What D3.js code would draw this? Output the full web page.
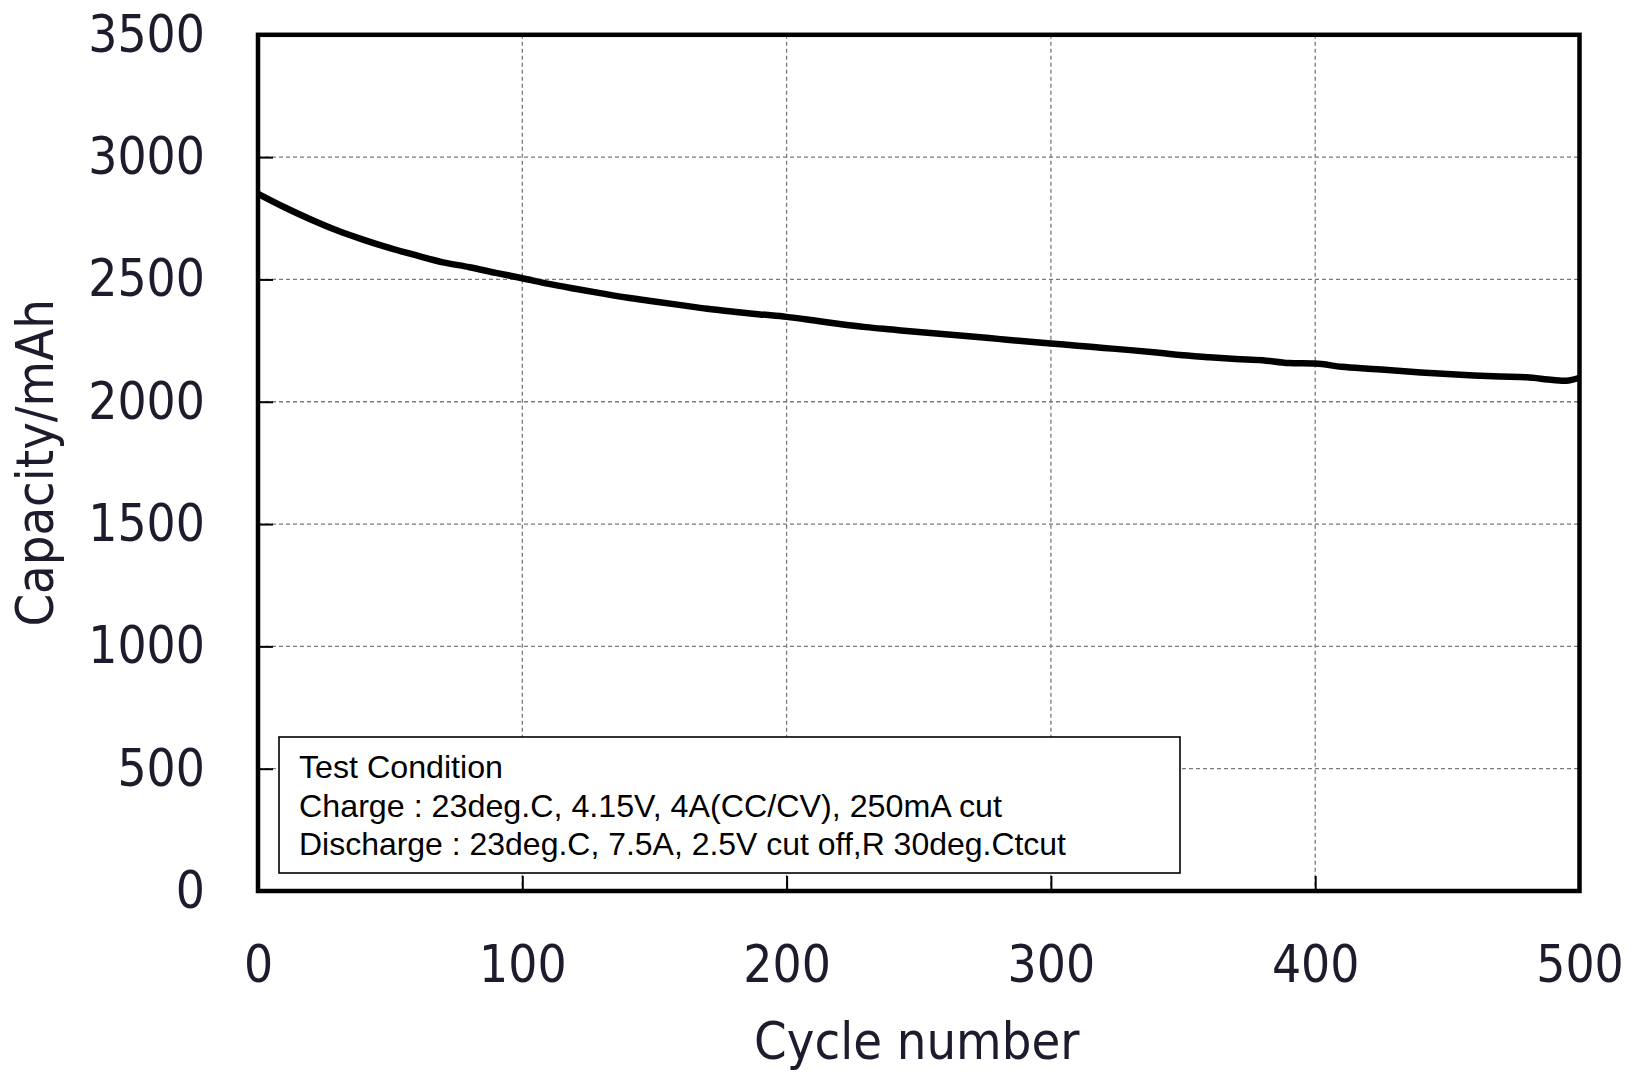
<!DOCTYPE html>
<html><head><meta charset="utf-8">
<script src="https://cdn.jsdelivr.net/npm/d3@7"></script>
<style>
html,body{margin:0;padding:0;background:#fff;}
svg{display:block;}
</style></head>
<body>
<svg id="chart" width="1632" height="1074"></svg>
<script>
const cycles = [0,10,20,30,40,50,60,70,80,90,100,110,120,130,140,150,160,170,180,190,200,210,220,230,240,250,260,270,280,290,300,310,320,330,340,350,360,370,380,390,400,410,420,430,440,450,460,470,480,490,495,500];
const capacity = [2850,2795,2745,2700,2662,2628,2598,2570,2550,2527,2505,2482,2462,2443,2425,2410,2395,2380,2368,2357,2347,2333,2318,2305,2295,2285,2276,2267,2257,2247,2238,2229,2220,2211,2201,2190,2182,2175,2170,2158,2156,2143,2135,2128,2120,2113,2107,2103,2100,2089,2086,2098];
const xTicks = [0,100,200,300,400,500];
const yTicks = [0,500,1000,1500,2000,2500,3000,3500];
const xTitle = "Cycle number";
const yTitle = "Capacity/mAh";
const legendLines = ["Test Condition","Charge : 23deg.C, 4.15V, 4A(CC/CV), 250mA cut","Discharge : 23deg.C, 7.5A, 2.5V cut off,R 30deg.Ctcut"];

const svg = d3.select("#chart");
const L = 258, R = 1579.5, T = 34.8, B = 891;
const x = d3.scaleLinear().domain([0,500]).range([L,R]);
const y = d3.scaleLinear().domain([0,3500]).range([B,T]);
const axisFont = "'DejaVu Sans Condensed','DejaVu Sans',sans-serif";

// gridlines
const grid = svg.append("g").attr("stroke","#7a7a7a").attr("stroke-width",1.3).attr("stroke-dasharray","4,3");
grid.selectAll(".gy").data(yTicks.filter(v=>v>0&&v<3500)).join("line")
  .attr("x1",L).attr("x2",R).attr("y1",d=>y(d)).attr("y2",d=>y(d));
grid.selectAll(".gx").data(xTicks.filter(v=>v>0&&v<500)).join("line")
  .attr("y1",T).attr("y2",B).attr("x1",d=>x(d)).attr("x2",d=>x(d));

// legend box (covers grid)
const lg = svg.append("g");
lg.append("rect").attr("x",279).attr("y",737).attr("width",901).attr("height",136)
  .attr("fill","#fff").attr("stroke","#000").attr("stroke-width",1.6);
const lgWidths = [204,703,767];
lg.selectAll("text").data(legendLines).join("text")
  .attr("x",299).attr("y",(d,i)=>778+i*38.5)
  .attr("font-family","'Liberation Sans Narrow','Liberation Sans',Arial,sans-serif").attr("font-size",30.5)
  .attr("fill","#000")
  .attr("textLength",(d,i)=>lgWidths[i]).attr("lengthAdjust","spacingAndGlyphs")
  .text(d=>d);

// axes
const yAxis = d3.axisLeft(y).tickValues(yTicks).tickSize(-15).tickPadding(53).tickFormat(d3.format("d"));
const gy = svg.append("g").attr("transform",`translate(${L},0)`).call(yAxis);
gy.select(".domain").remove();
gy.selectAll(".tick line").attr("stroke","#000").attr("stroke-width",2);
gy.selectAll(".tick text").attr("font-family",axisFont).attr("font-size",51).attr("fill","#1c1c2c");

const xAxis = d3.axisBottom(x).tickValues(xTicks).tickSize(-15).tickPadding(55).tickFormat(d3.format("d"));
const gx = svg.append("g").attr("transform",`translate(0,${B})`).call(xAxis);
gx.select(".domain").remove();
gx.selectAll(".tick line").attr("stroke","#000").attr("stroke-width",2);
gx.selectAll(".tick text").attr("font-family",axisFont).attr("font-size",51).attr("fill","#1c1c2c");

// data line
const line = d3.line().x((d,i)=>x(cycles[i])).y(d=>y(d)).curve(d3.curveMonotoneX);
svg.append("path").datum(capacity).attr("d",line)
  .attr("fill","none").attr("stroke","#000").attr("stroke-width",6.5).attr("stroke-linejoin","round");

// frame
svg.append("rect").attr("x",L).attr("y",T).attr("width",R-L).attr("height",B-T)
  .attr("fill","none").attr("stroke","#000").attr("stroke-width",4.5);

// titles
svg.append("text").attr("x",(L+R)/2 - 2).attr("y",1059).attr("text-anchor","middle")
  .attr("font-family",axisFont).attr("font-size",52).attr("fill","#1c1c2c").text(xTitle);
svg.append("text").attr("transform",`translate(53,${(T+B)/2}) rotate(-90)`).attr("text-anchor","middle")
  .attr("font-family",axisFont).attr("font-size",52).attr("fill","#1c1c2c").text(yTitle);
</script>
</body></html>
